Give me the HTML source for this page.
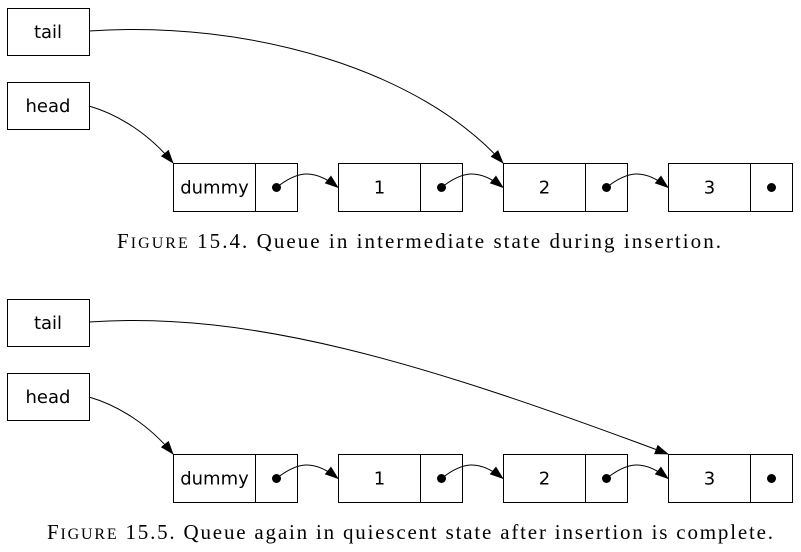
<!DOCTYPE html>
<html><head><meta charset="utf-8"><style>
body{margin:0;background:#fff;}
svg{display:block;}
.b{fill:#fff;stroke:#000;stroke-width:1;}
.t{font-family:"DejaVu Sans","Liberation Sans",sans-serif;font-size:18px;}
.c{font-family:"Liberation Serif",serif;font-size:21px;}
.l{fill:none;stroke:#000;stroke-width:1;}
</style></head><body>
<svg width="801" height="552" viewBox="0 0 801 552">
<defs><marker id="ah" markerWidth="14" markerHeight="10" refX="13" refY="5" orient="auto" markerUnits="userSpaceOnUse"><path d="M0,0 L14,5 L0,10 z" fill="#000"/></marker></defs>
<g id="fig1"></g>
<g id="fig2"></g>
</svg>
<script>
const labels=["dummy","1","2","3"];
const nodeX=[173,338,503,668];
const tailTarget=[2,3];
const capX=[117,47];
const capW=[604,726];
function draw(g,oy,tailIdx,i){
  const ns="http://www.w3.org/2000/svg";
  function el(t,a,txt){const e=document.createElementNS(ns,t);for(const k in a)e.setAttribute(k,a[k]);if(txt!=null)e.textContent=txt;g.appendChild(e);return e;}
  const tail=el('rect',{class:'b',x:7.5,y:oy+8.5,width:82,height:47});
  
  el('text',{class:'t',x:48,y:oy+38,'text-anchor':'middle'},'tail');
  const head=el('rect',{class:'b',x:7.5,y:oy+82.5,width:82,height:47});
  
  el('text',{class:'t',x:48,y:oy+112,'text-anchor':'middle'},'head');
  const ny=oy+163.5;
  labels.forEach((lab,j)=>{
    const x=nodeX[j]+0.5;
    const r=el('rect',{class:'b',x:x,y:ny,width:82,height:48});
    
    el('rect',{class:'b',x:x+82,y:ny,width:42,height:48});
    el('text',{class:'t',x:x+41,y:ny+30,'text-anchor':'middle'},lab);
    el('circle',{cx:x+103,cy:ny+24,r:4.5,fill:'#000'});
    if(j<labels.length-1){
      const x0=x+103,x1=nodeX[j+1];
      el('path',{class:'l',d:`M${x0},${ny+24} C${x0+20},${ny+8} ${x1-25},${ny+4} ${x1},${ny+24}`,'marker-end':'url(#ah)'});
    }
  });
  el('path',{class:'l',d:`M89,${oy+106} C120,${oy+115} 150,${oy+135} 173,${oy+163}`,'marker-end':'url(#ah)'});
  const tx=nodeX[tailIdx];
  el('path',{class:'l',d:`M89,${oy+31} C250,${oy+20} 420,${oy+70} ${tx},${oy+163}`,'marker-end':'url(#ah)'});
  el('text',{class:'c',x:capX[i],y:oy+248,textLength:capW[i],lengthAdjust:'spacing'},'');
}
draw(document.getElementById('fig1'),0,tailTarget[0],0);
draw(document.getElementById('fig2'),291,tailTarget[1],1);
const caps=[["Figure"," 15.4. Queue in intermediate state during insertion."],["Figure"," 15.5. Queue again in quiescent state after insertion is complete."]];
const texts=document.querySelectorAll('text.c');
texts.forEach((t,i)=>{
  const ns="http://www.w3.org/2000/svg";
  const a=document.createElementNS(ns,'tspan');a.textContent="F";
  const b=document.createElementNS(ns,'tspan');b.textContent="IGURE";b.setAttribute('font-size','16');
  const c=document.createElementNS(ns,'tspan');c.textContent=caps[i][1];
  t.appendChild(a);t.appendChild(b);t.appendChild(c);
  
  
});
</script>
</body></html>
